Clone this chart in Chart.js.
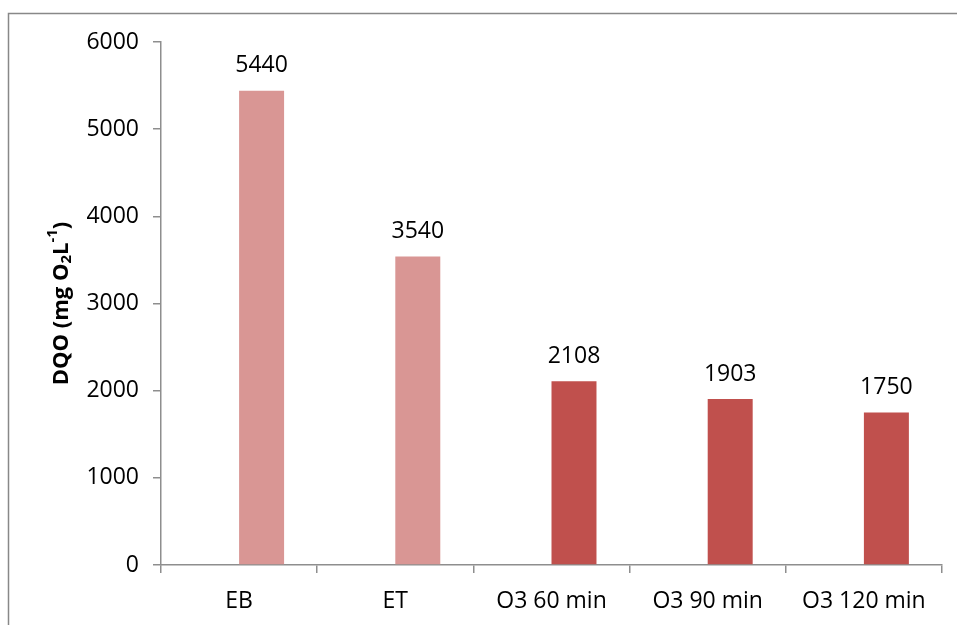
<!DOCTYPE html>
<html>
<head>
<meta charset="utf-8">
<script src="https://cdn.jsdelivr.net/npm/chart.js@4/dist/chart.umd.min.js"></script>
<style>
  body { margin: 0; background: #fff; }
</style>
</head>
<body>
<canvas id="DqoChart" width="957" height="625"></canvas>
<script>
// data
const categories = ['EB', 'ET', 'O3 60 min', 'O3 90 min', 'O3 120 min'];
const dqo = [5440, 3540, 2108, 1903, 1750];
const spacer = [null, null, null, null, null]; // empty first series, like the excel original
const yTicks = [0, 1000, 2000, 3000, 4000, 5000, 6000];

const barColors = ['#D99694', '#D99694', '#C0504D', '#C0504D', '#C0504D'];
const FONT = '"Open Sans", "Liberation Sans", sans-serif';
const axisGray = '#8e8e8e';

// outer frame of the chart (runs off right and bottom)
const frame = {
  id: 'frame',
  beforeDraw(chart) {
    const ctx = chart.ctx;
    ctx.save();
    ctx.strokeStyle = '#888';
    ctx.lineWidth = 1.5;
    ctx.strokeRect(8.5, 13.5, 1100, 800);
    ctx.restore();
  }
};

// numbers above bars
const valueLabels = {
  id: 'valueLabels',
  afterDatasetsDraw(chart) {
    const ctx = chart.ctx;
    const meta = chart.getDatasetMeta(1);
    ctx.save();
    ctx.font = '23px ' + FONT;
    ctx.fillStyle = '#000';
    ctx.textAlign = 'center';
    ctx.textBaseline = 'middle';
    meta.data.forEach(function (bar, i) {
      ctx.fillText(String(dqo[i]), bar.x, bar.y - 25);
    });
    ctx.restore();
  }
};

// y axis title with subscript / superscript
const yTitle = {
  id: 'yTitle',
  afterDraw(chart) {
    const ctx = chart.ctx;
    const area = chart.chartArea;
    const big = 22, small = 15;
    const parts = [
      { t: 'DQO (mg O', s: big, dy: 0 },
      { t: '2', s: small, dy: 5 },
      { t: 'L', s: big, dy: 0 },
      { t: '-1', s: small, dy: -9 },
      { t: ')', s: big, dy: 0 }
    ];
    ctx.save();
    ctx.translate(62, (area.top + area.bottom) / 2);
    ctx.rotate(-Math.PI / 2);
    ctx.fillStyle = '#000';
    ctx.textBaseline = 'middle';
    ctx.textAlign = 'left';
    let total = 0;
    parts.forEach(function (p) {
      ctx.font = 'bold ' + p.s + 'px ' + FONT;
      p.w = ctx.measureText(p.t).width;
      total += p.w;
    });
    let x = -total / 2;
    parts.forEach(function (p) {
      ctx.font = 'bold ' + p.s + 'px ' + FONT;
      ctx.fillText(p.t, x, p.dy);
      x += p.w;
    });
    ctx.restore();
  }
};

const ctx = document.getElementById('DqoChart').getContext('2d');
new Chart(ctx, {
  type: 'bar',
  data: {
    labels: categories,
    datasets: [
      { data: spacer, backgroundColor: '#D99694' },
      { data: dqo, backgroundColor: barColors }
    ]
  },
  options: {
    responsive: false,
    animation: false,
    layout: { padding: { left: 0, right: 15, top: 42, bottom: 0 } },
    plugins: {
      legend: { display: false },
      tooltip: { enabled: false }
    },
    datasets: {
      bar: { categoryPercentage: 0.576, barPercentage: 1 }
    },
    scales: {
      x: {
        grid: { display: true, drawOnChartArea: false, tickLength: 8, color: axisGray, lineWidth: 1.5 },
        border: { color: axisGray, width: 1.5 },
        ticks: { color: '#000', font: { family: FONT, size: 23 }, padding: 15 },
        afterFit: function (scale) { scale.height = 60; }
      },
      y: {
        min: 0,
        max: 6000,
        afterBuildTicks: function (scale) {
          scale.ticks = yTicks.map(function (v) { return { value: v }; });
        },
        grid: { display: true, drawOnChartArea: false, tickLength: 8, color: axisGray, lineWidth: 1.5 },
        border: { color: axisGray, width: 1.5 },
        ticks: {
          color: '#000',
          font: { family: FONT, size: 23 },
          padding: 14,
          callback: function (v) { return String(v); }
        },
        afterFit: function (scale) { scale.width = 161; }
      }
    }
  },
  plugins: [frame, valueLabels, yTitle]
});
</script>
</body>
</html>
